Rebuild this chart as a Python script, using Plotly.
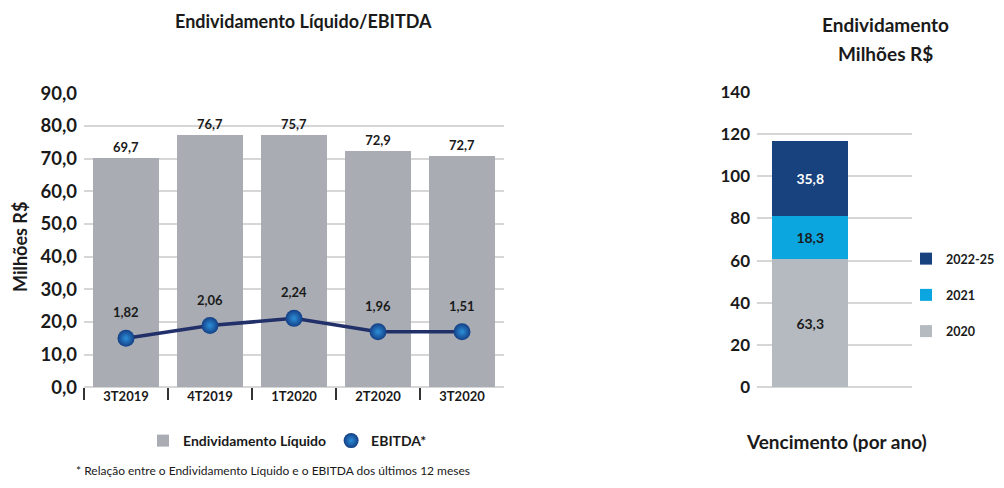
import plotly.graph_objects as go

# ---------------- data ----------------
quarters = ["3T2019", "4T2019", "1T2020", "2T2020", "3T2020"]
debt_height = [70.1, 77.2, 77.2, 72.3, 70.8]           # drawn bar heights (Milhões R$)
debt_labels = ["69,7", "76,7", "75,7", "72,9", "72,7"]
ebitda_pos = [15.0, 18.9, 21.1, 17.0, 17.0]            # drawn point positions on left axis
ebitda_labels = ["1,82", "2,06", "2,24", "1,96", "1,51"]

mat_years = ["2020", "2021", "2022-25"]
mat_height = [60.9, 20.2, 35.6]
mat_labels = ["63,3", "18,3", "35,8"]
mat_category = ["Vencimento"]

left_ticks = [0, 10, 20, 30, 40, 50, 60, 70, 80, 90]
right_ticks = [0, 20, 40, 60, 80, 100, 120, 140]

# ---------------- style ----------------
FONT = "Lato"
DARK = "#1a1a1a"
GRID = "#d6d6d6"
PAGE_W, PAGE_H = 1004, 488
BODY = 8                      # default page body margin around the figure
W, H = PAGE_W - 2 * BODY, PAGE_H - 2 * BODY

def px_x(p):
    """window pixel x -> paper fraction"""
    return (p - BODY) / W

def px_y(p):
    """window pixel y (from top) -> paper fraction"""
    return (BODY + H - p) / H

fig = go.Figure()

# left chart: net debt bars
fig.add_trace(go.Bar(
    x=quarters, y=debt_height, name="Endividamento Líquido",
    marker=dict(color="#a9adb3", line=dict(width=0)),
    width=0.79,
    text=debt_labels, textposition="outside",
    textfont=dict(family=FONT, size=13, color=DARK, weight="bold"),
    cliponaxis=False, xaxis="x", yaxis="y", legend="legend", legendrank=1,
    hoverinfo="skip",
))

# left chart: EBITDA line
fig.add_trace(go.Scatter(
    x=quarters, y=ebitda_pos, mode="lines+markers", name="EBITDA*",
    line=dict(color="#22306a", width=3.5),
    marker=dict(size=17, color="#143f86",
                gradient=dict(type="radial", color="#2b8fd8"),
                line=dict(width=0)),
    showlegend=False, xaxis="x", yaxis="y", cliponaxis=False,
))
# legend entry for EBITDA (marker only)
fig.add_trace(go.Scatter(
    x=[None], y=[None], mode="markers", name="EBITDA*",
    marker=dict(size=15, color="#143f86",
                gradient=dict(type="radial", color="#2b8fd8")),
    xaxis="x", yaxis="y", legend="legend", legendrank=2,
))

# right chart: maturity stacked bar
mat_colors = ["#b5bac0", "#0ba6e0", "#17427e"]
mat_text_colors = [DARK, DARK, "white"]
mat_rank = [3, 2, 1]
for yr, h, lab, c, tc, rk in zip(mat_years, mat_height, mat_labels, mat_colors,
                                 mat_text_colors, mat_rank):
    fig.add_trace(go.Bar(
        x=mat_category, y=[h], name=yr,
        marker=dict(color=c, line=dict(width=0)),
        width=1.0,
        text=[lab], textposition="inside", insidetextanchor="middle",
        textfont=dict(family=FONT, size=14, color=tc, weight="bold"),
        xaxis="x2", yaxis="y2", legend="legend2", legendgroup=yr, legendrank=rk,
        hoverinfo="skip",
    ))

def note(text, x, y, size, bold=True, angle=0):
    return dict(text=text, x=px_x(x), y=px_y(y), xref="paper", yref="paper",
                xanchor="center", yanchor="middle", textangle=angle, showarrow=False,
                font=dict(family=FONT, size=size, color=DARK,
                          weight="bold" if bold else "normal"))

annotations = [
    note("Endividamento Líquido/EBITDA", 303, 21, 18),
    note("Milhões R$", 20, 247, 18, angle=-90),
    note("Endividamento", 885, 24, 19),
    note("Milhões R$", 885, 54, 19),
    note("Vencimento (por ano)", 836, 441, 19),
    note("* Relação entre o Endividamento Líquido e o EBITDA dos últimos 12 meses",
         273, 470, 12, bold=False),
]
for q, v, lab in zip(quarters, ebitda_pos, ebitda_labels):
    annotations.append(dict(text=lab, x=q, y=v, xref="x", yref="y", yshift=26,
                            showarrow=False,
                            font=dict(family=FONT, size=13, color=DARK, weight="bold")))

fig.update_layout(
    width=W, height=H,
    margin=dict(l=0, r=0, t=0, b=0, autoexpand=False),
    paper_bgcolor="white", plot_bgcolor="white",
    separators=",.",
    barmode="stack",
    font=dict(family=FONT, color=DARK),
    xaxis=dict(domain=[px_x(84), px_x(504)], type="category",
               tickson="boundaries", ticks="outside", ticklen=12, tickwidth=1.5,
               tickcolor="#333333", showgrid=False, showline=False, zeroline=False,
               tickfont=dict(family=FONT, size=13, color=DARK, weight="bold"),
               anchor="y"),
    yaxis=dict(domain=[px_y(387.3), px_y(93.3)], range=[0, 90], tickvals=left_ticks,
               tickformat=".1f", showgrid=True, gridcolor=GRID, gridwidth=1.5,
               zeroline=True, zerolinecolor=GRID, zerolinewidth=1.5, showline=False,
               ticks="", ticklabelstandoff=6,
               tickfont=dict(family=FONT, size=18.5, color=DARK, weight="bold"),
               anchor="x"),
    xaxis2=dict(domain=[px_x(757), px_x(912)], type="category", range=[-0.7, 1.34],
                showticklabels=False, ticks="", showgrid=False, zeroline=False,
                showline=False, anchor="y2"),
    yaxis2=dict(domain=[px_y(387.3), px_y(91.7)], range=[0, 140], tickvals=right_ticks,
                tickformat="d", showgrid=True, gridcolor=GRID, gridwidth=1.5,
                zeroline=True, zerolinecolor=GRID, zerolinewidth=1.5, showline=False,
                ticks="", ticklabelstandoff=6,
                tickfont=dict(family=FONT, size=17, color=DARK, weight="bold"),
                anchor="x2"),
    legend=dict(orientation="h", x=px_x(143), y=px_y(441), xanchor="left", yanchor="middle",
                traceorder="normal",
                font=dict(family=FONT, size=14, color=DARK, weight="bold"),
                bgcolor="rgba(0,0,0,0)", itemwidth=30),
    legend2=dict(orientation="v", x=px_x(906), y=px_y(244), xanchor="left", yanchor="top",
                 traceorder="grouped", tracegroupgap=17,
                 font=dict(family=FONT, size=12.5, color=DARK, weight="bold"),
                 bgcolor="rgba(0,0,0,0)", itemwidth=30),
    annotations=annotations,
    hovermode=False,
)

fig.write_html("out.html")
